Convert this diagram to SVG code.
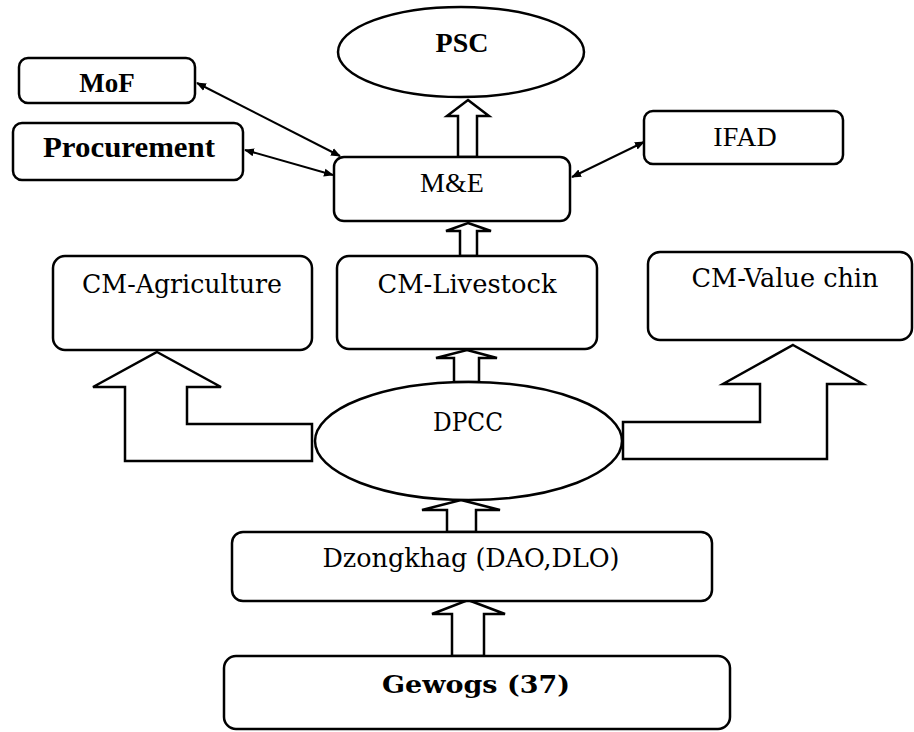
<svg xmlns="http://www.w3.org/2000/svg" width="914" height="732" viewBox="0 0 914 732">
<defs>
<marker id="ah" viewBox="0 0 10 10" refX="9" refY="5" markerWidth="5" markerHeight="5" orient="auto-start-reverse" markerUnits="strokeWidth">
<path d="M0,1 L10,5 L0,9 Z" fill="#000"/>
</marker>
<style>
.box{fill:#fff;stroke:#000;stroke-width:2.5}
.blk{fill:#fff;stroke:#000;stroke-width:2.5;stroke-linejoin:miter}
.ln{stroke:#000;stroke-width:2;fill:none;marker-start:url(#ah);marker-end:url(#ah)}
text{font-family:"Liberation Serif","Times New Roman",serif;fill:#000;text-anchor:middle}
.c{font-family:"DejaVu Serif","Liberation Serif",serif}
.b{font-weight:bold}
</style>
</defs>
<rect width="914" height="732" fill="#fff"/>
<g id="connectors">
<line class="ln" x1="197" y1="83" x2="340" y2="156"/>
<line class="ln" x1="245" y1="150" x2="333" y2="175"/>
<line class="ln" x1="572" y1="177" x2="644" y2="142"/>
<polygon class="blk" points="468,100 489,116 477,116 477,157 458,157 458,116 447,116"/>
<polygon class="blk" points="468,223 491,231 477,231 477,256 460,256 460,231 446,231"/>
<polygon class="blk" points="467,350 497,358 479,358 479,382 454,382 454,358 436,358"/>
<polygon class="blk" points="461,500 500,510 476,510 476,532 447,532 447,510 422,510"/>
<polygon class="blk" points="468,600 505,614 484,614 484,656 452,656 452,614 432,614"/>
<polygon class="blk" points="157,352 221,387 187,387 187,424 312,424 312,461 125,461 125,387 93,387"/>
<polygon class="blk" points="793,345 863,384 827,384 827,459 623,459 623,422 760,422 760,384 723,384"/>
</g>
<g id="psc">
<ellipse class="box" cx="461" cy="52" rx="123" ry="45"/>
<text class="b" x="462" y="52" font-size="28">PSC</text>
</g>
<g id="mof">
<rect class="box" x="19" y="58" width="176" height="45" rx="9"/>
<text class="b" x="107" y="92" font-size="27">MoF</text>
</g>
<g id="procurement">
<rect class="box" x="13" y="123" width="230" height="57" rx="9"/>
<text class="b" x="129" y="157" font-size="29" textLength="172" lengthAdjust="spacingAndGlyphs">Procurement</text>
</g>
<g id="me">
<rect class="box" x="334" y="157" width="236" height="64" rx="10"/>
<text x="452" y="192" font-size="28">M&amp;E</text>
</g>
<g id="ifad">
<rect class="box" x="644" y="111" width="199" height="53" rx="9"/>
<text x="745" y="146" font-size="28">IFAD</text>
</g>
<g id="cm-agriculture">
<rect class="box" x="53" y="256" width="259" height="94" rx="12"/>
<text class="c" x="182" y="293" font-size="26" textLength="200" lengthAdjust="spacingAndGlyphs">CM-Agriculture</text>
</g>
<g id="cm-livestock">
<rect class="box" x="337" y="256" width="260" height="93" rx="12"/>
<text class="c" x="467" y="293" font-size="26" textLength="179" lengthAdjust="spacingAndGlyphs">CM-Livestock</text>
</g>
<g id="cm-value-chin">
<rect class="box" x="648" y="252" width="264" height="88" rx="12"/>
<text class="c" x="785" y="287" font-size="26" textLength="187" lengthAdjust="spacingAndGlyphs">CM-Value chin</text>
</g>
<g id="dpcc">
<ellipse class="box" cx="468.5" cy="441" rx="153.5" ry="59"/>
<text class="c" x="468" y="431" font-size="26" textLength="70" lengthAdjust="spacingAndGlyphs">DPCC</text>
</g>
<g id="dzongkhag">
<rect class="box" x="232" y="532" width="480" height="69" rx="11"/>
<text class="c" x="471" y="567" font-size="26" textLength="297" lengthAdjust="spacingAndGlyphs">Dzongkhag (DAO,DLO)</text>
</g>
<g id="gewogs">
<rect class="box" x="224" y="656" width="506" height="73" rx="12"/>
<text class="c b" x="476" y="693" font-size="25" textLength="188" lengthAdjust="spacingAndGlyphs">Gewogs (37)</text>
</g>
</svg>
